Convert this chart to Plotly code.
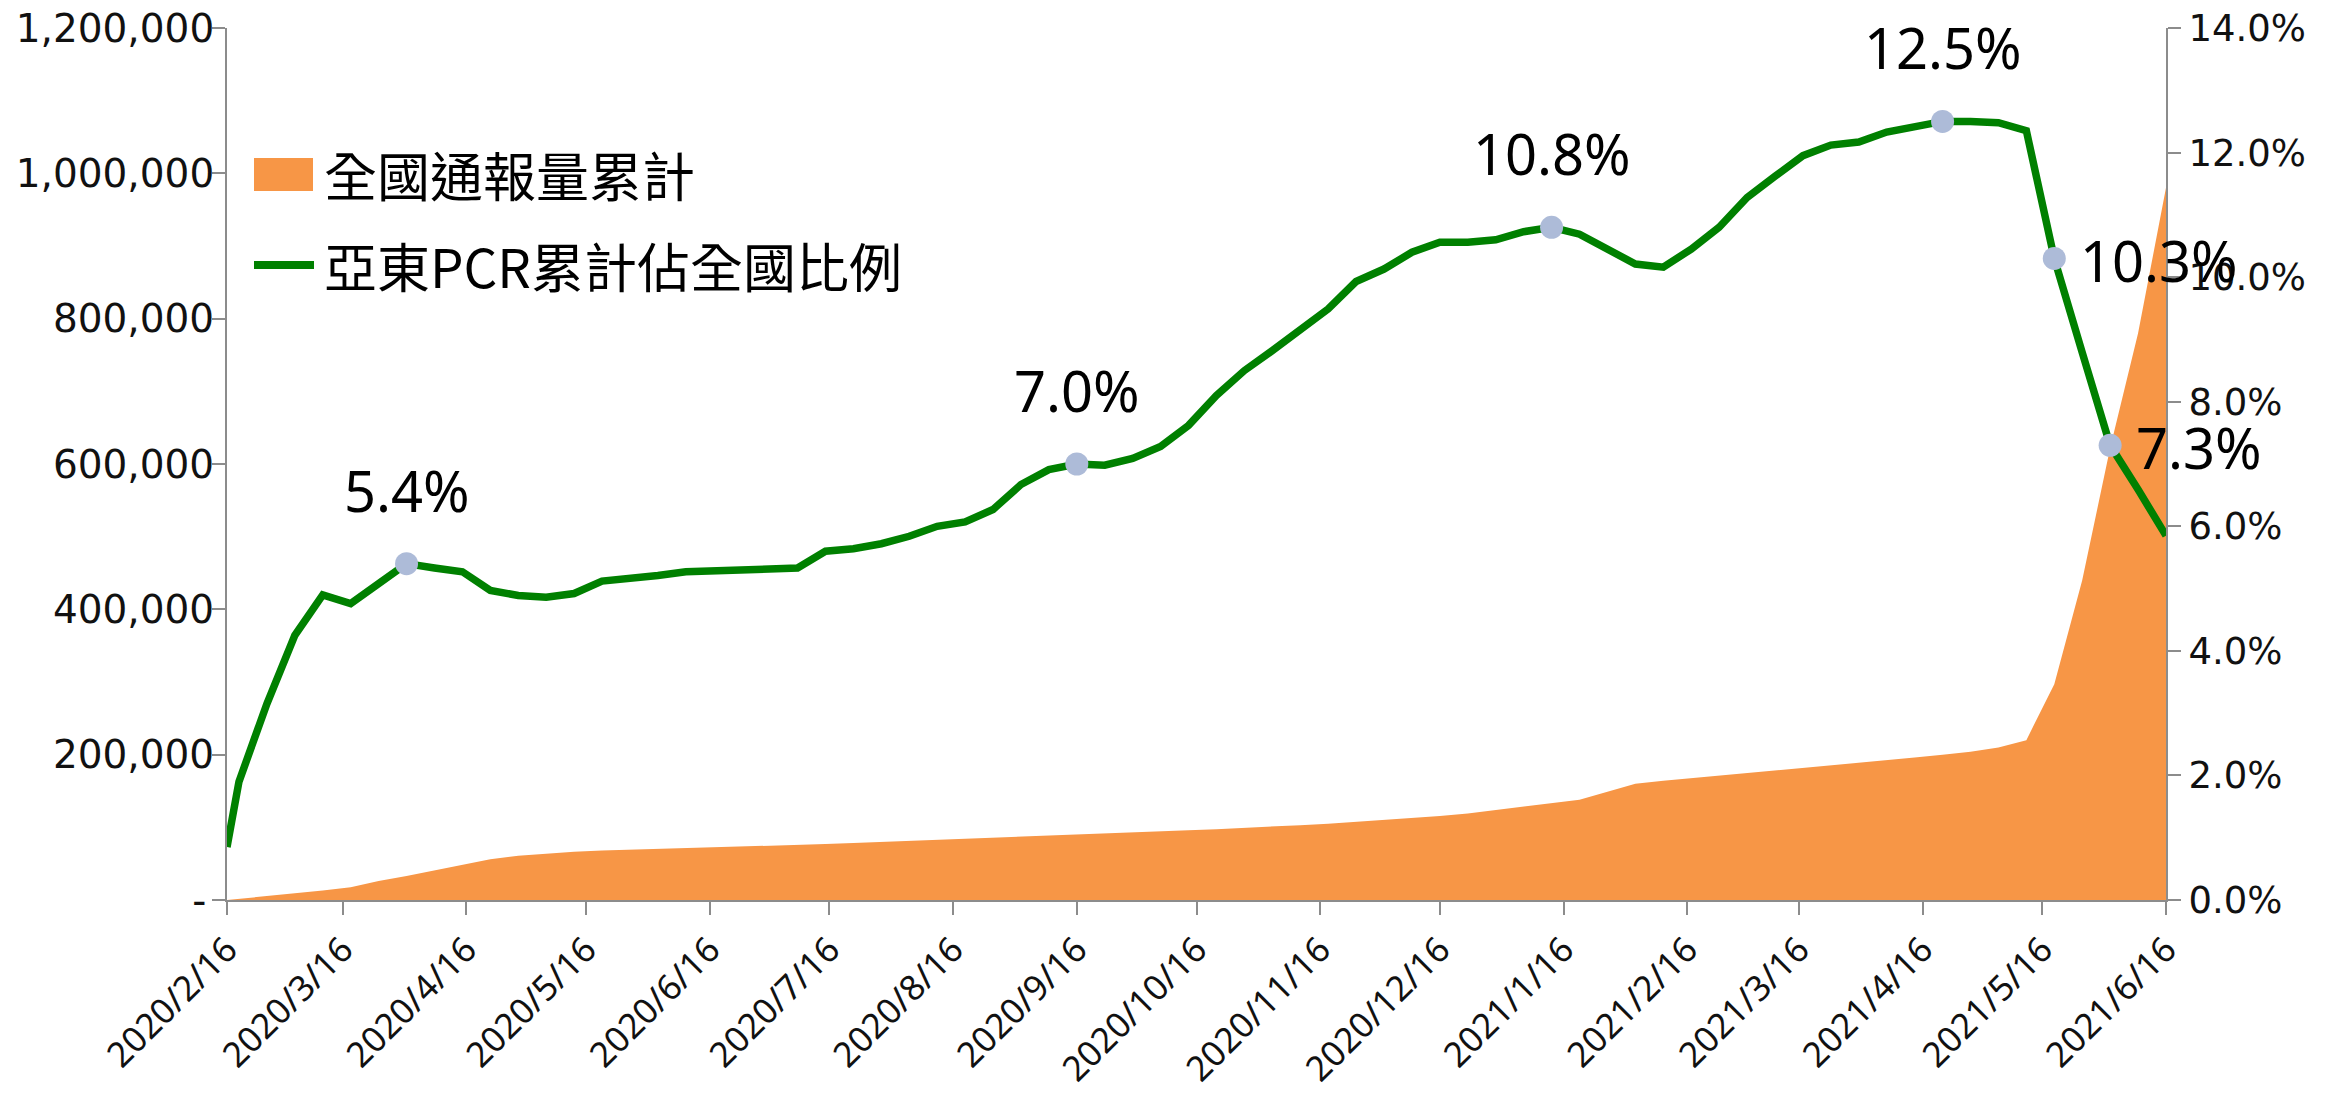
import pandas as pd
import plotly.graph_objects as go

# ---------------- data ----------------
dates = ["2020-02-16"] + [d.strftime("%Y-%m-%d") for d in pd.date_range("2020-02-19", "2021-06-16", freq="7D")]

national_cum = [
    0, 1500, 5500, 9500, 13000, 17500, 26000, 33000, 41000, 49000,
    56000, 61000, 64000, 66500, 68000, 69000, 70000, 71000, 72000, 73300,
    74500, 75500, 77000, 78300, 79700, 81000, 82500, 84000, 85500, 87000,
    88500, 90000, 91500, 93000, 94500, 96000, 97500, 99000, 101000, 103000,
    105000, 107500, 110000, 112000, 115500, 119000, 124000, 128000, 133000, 138000,
    149000, 160000, 164000, 167500, 171000, 174000, 177500, 181000, 184500, 188000,
    192000, 196000, 200000, 204000, 210000, 220000, 297000, 440000, 622000, 780000,
    980000,
]

share_pct = [
    0.85, 1.90, 3.15, 4.25, 4.90, 4.76, 5.08, 5.40, 5.33, 5.27,
    4.97, 4.89, 4.86, 4.92, 5.12, 5.15, 5.21, 5.27, 5.28, 5.28,
    5.29, 5.33, 5.60, 5.64, 5.72, 5.84, 6.00, 6.07, 6.27, 6.67,
    6.91, 7.00, 6.98, 7.09, 7.28, 7.62, 8.10, 8.50, 8.82, 9.14,
    9.49, 9.93, 10.13, 10.40, 10.56, 10.56, 10.60, 10.73, 10.80, 10.69,
    10.45, 10.21, 10.16, 10.45, 10.80, 11.28, 11.62, 11.95, 12.12, 12.17,
    12.33, 12.42, 12.50, 12.50, 12.48, 12.35, 10.30, 8.79, 7.30, 6.59,
    5.85,
]

label_idx_top = [7, 31, 48, 62]      # labels above the point
label_idx_right = [66, 68]           # labels to the right of the point

legend_names = ["全國通報量累計", "亞東PCR累計佔全國比例"]

x_tick_dates = [
    "2020-02-16", "2020-03-16", "2020-04-16", "2020-05-16", "2020-06-16", "2020-07-16",
    "2020-08-16", "2020-09-16", "2020-10-16", "2020-11-16", "2020-12-16", "2021-01-16",
    "2021-02-16", "2021-03-16", "2021-04-16", "2021-05-16", "2021-06-16",
]
x_tick_text = [f"{int(d[:4])}/{int(d[5:7])}/{int(d[8:])}" for d in x_tick_dates]

y1_ticks = [0, 200000, 400000, 600000, 800000, 1000000, 1200000]
y1_text = ["-\u2009"] + [f"{v:,}" for v in y1_ticks[1:]]
y2_ticks = [0, 2, 4, 6, 8, 10, 12, 14]
y2_text = [f"{v:.1f}%" for v in y2_ticks]

# ---------------- style ----------------
OFF = 8                      # default page body margin
W, H = 2326 - 2 * OFF, 1098 - 2 * OFF
L, R, T, B = 227 - OFF, 160 - OFF, 28 - OFF, 198 - OFF
ORANGE = "#F79646"
GREEN = "#008000"
MARKER = "#ADBBD8"
AXIS = "#8C8C8C"
TXT = "#111111"

def px(xp):   # window pixel -> paper
    return (xp - OFF - L) / (W - L - R)

def py(yp):
    return 1 - (yp - OFF - T) / (H - T - B)

fig = go.Figure()

fig.add_trace(go.Scatter(
    x=dates, y=national_cum, name=legend_names[0],
    mode="lines", line=dict(width=0, color=ORANGE),
    fill="tozeroy", fillcolor=ORANGE, showlegend=False, hoverinfo="x+y",
))
fig.add_trace(go.Scatter(
    x=dates, y=share_pct, name=legend_names[1], yaxis="y2",
    mode="lines", line=dict(color=GREEN, width=7.5),
    showlegend=False,
))
mk = label_idx_top + label_idx_right
fig.add_trace(go.Scatter(
    x=[dates[i] for i in mk], y=[share_pct[i] for i in mk], yaxis="y2",
    mode="markers", marker=dict(size=23, color=MARKER),
    showlegend=False, hoverinfo="skip",
))

annotations = []
for i in label_idx_top:
    annotations.append(dict(
        x=dates[i], y=share_pct[i], xref="x", yref="y2",
        text=f"{share_pct[i]:.1f}%", showarrow=False,
        xanchor="center", yanchor="middle", yshift=74,
        font=dict(family="Noto Sans", size=56, color="#000000"),
    ))
for i in label_idx_right:
    annotations.append(dict(
        x=dates[i], y=share_pct[i], xref="x", yref="y2",
        text=f"{share_pct[i]:.1f}%", showarrow=False,
        xanchor="left", yanchor="middle", xshift=24, yshift=-2,
        font=dict(family="Noto Sans", size=56, color="#000000"),
    ))

# manual legend
legend_font = dict(family="Noto Sans CJK TC", size=53, color="#000000")
annotations.append(dict(x=px(322), y=py(174), xref="paper", yref="paper",
                        text=legend_names[0], showarrow=False,
                        xanchor="left", yanchor="middle", font=legend_font))
annotations.append(dict(x=px(322), y=py(265), xref="paper", yref="paper",
                        text=legend_names[1], showarrow=False,
                        xanchor="left", yanchor="middle", font=legend_font))
shapes = [
    dict(type="rect", xref="paper", yref="paper",
         x0=px(254), x1=px(313), y0=py(191), y1=py(158),
         fillcolor=ORANGE, line=dict(width=0)),
    dict(type="line", xref="paper", yref="paper",
         x0=px(254), x1=px(314), y0=py(265), y1=py(265),
         line=dict(color=GREEN, width=8)),
]

common_axis = dict(
    ticks="outside", ticklen=13, tickwidth=2, tickcolor=AXIS,
    showline=True, linecolor=AXIS, linewidth=2, showgrid=False, zeroline=False,
    automargin=False, ticklabeloverflow="allow",
)

fig.update_layout(
    width=W, height=H,
    margin=dict(l=L, r=R, t=T, b=B, pad=0, autoexpand=False),
    paper_bgcolor="white", plot_bgcolor="white",
    showlegend=False,
    xaxis=dict(
        type="date", range=["2020-02-16", "2021-06-16"],
        tickmode="array", tickvals=x_tick_dates, ticktext=x_tick_text,
        tickangle=-45,
        tickfont=dict(family="Noto Sans", size=35, color=TXT),
        **common_axis,
    ),
    yaxis=dict(
        range=[0, 1200000], tickmode="array", tickvals=y1_ticks, ticktext=y1_text,
        tickfont=dict(family="DejaVu Sans", size=39, color=TXT),
        ticklabelstandoff=-10,
        **common_axis,
    ),
    yaxis2=dict(
        range=[0, 14], overlaying="y", side="right",
        tickmode="array", tickvals=y2_ticks, ticktext=y2_text,
        tickfont=dict(family="DejaVu Sans", size=37, color=TXT),
        **common_axis,
    ),
    annotations=annotations,
    shapes=shapes,
)

fig.write_html("out.html")
